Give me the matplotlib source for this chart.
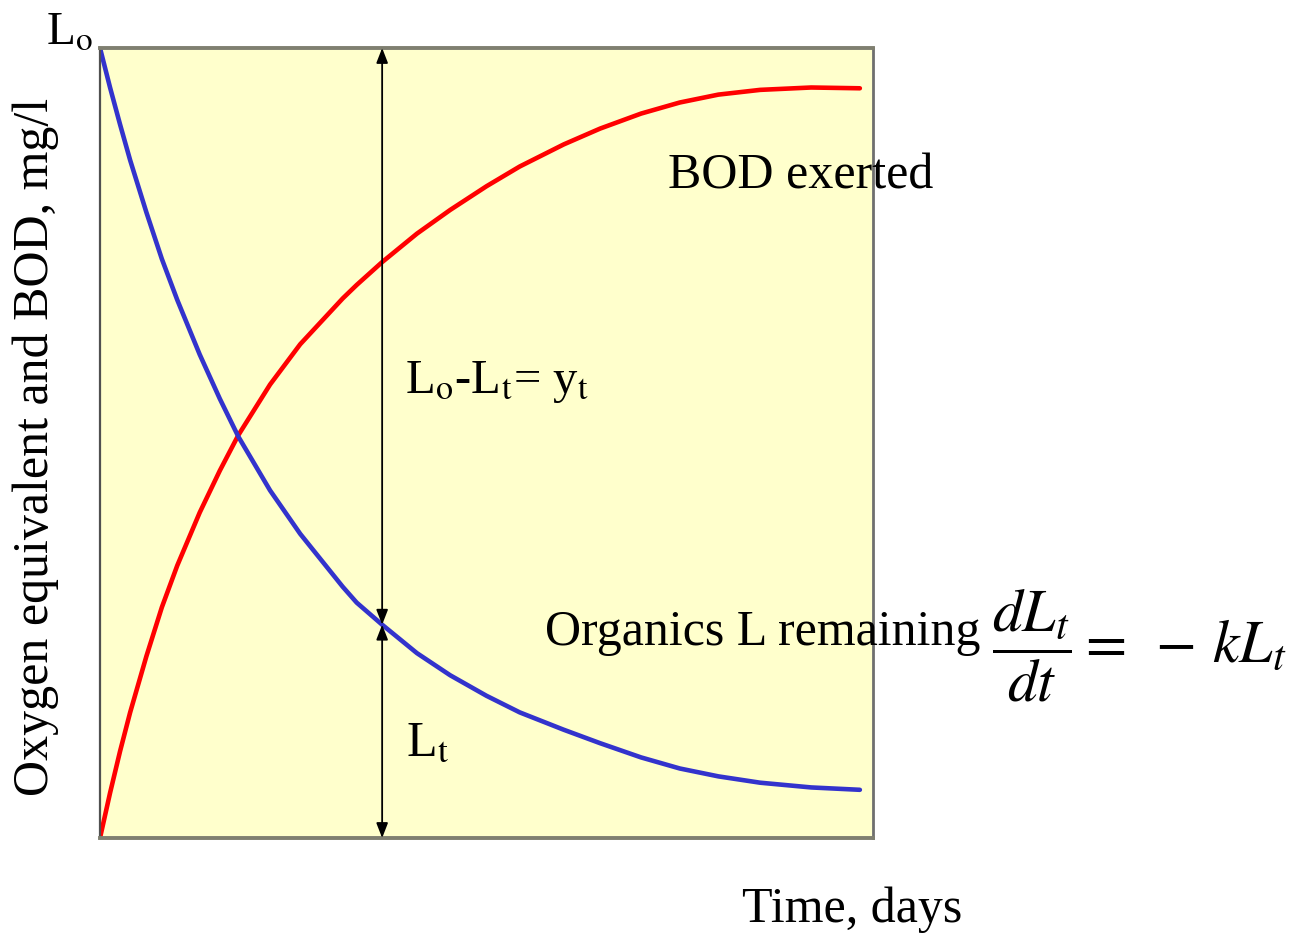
import numpy as np
import matplotlib
matplotlib.use('Agg')
from matplotlib import pyplot as plt

plt.rcParams['font.family'] = ['Liberation Serif', 'DejaVu Serif']
plt.rcParams['mathtext.fontset'] = 'stix'

# time axis (arbitrary units, 0..10)
t = [0, 0.13, 0.26, 0.39, 0.6, 0.8, 1.0, 1.29, 1.55, 1.79, 2.2, 2.59, 3.14, 3.32, 3.65,
     4.1, 4.53, 5.0, 5.43, 6.0, 6.47, 7.0, 7.5, 8.0, 8.54, 9.2, 9.83]
# BOD exerted (red)
bod = [0, 0.57, 1.10, 1.59, 2.30, 2.92, 3.45, 4.12, 4.65, 5.10, 5.74, 6.25, 6.83, 7.00, 7.29,
       7.65, 7.95, 8.25, 8.50, 8.78, 8.98, 9.17, 9.31, 9.41, 9.47, 9.50, 9.49]
# organics remaining (blue)
remaining = [10, 9.50, 9.03, 8.58, 7.92, 7.33, 6.81, 6.12, 5.56, 5.08, 4.40, 3.85, 3.18, 2.98, 2.70,
             2.34, 2.06, 1.80, 1.59, 1.37, 1.20, 1.02, 0.88, 0.78, 0.70, 0.64, 0.61]

t_mark = 3.65
L_mark = 2.70
L0 = 10

fig = plt.figure(figsize=(13.06, 9.38), dpi=100)
ax = fig.add_axes([100/1306, 100/938, 773/1306, 790/938])
ax.set_facecolor('#FFFFCC')

ax.plot(t, bod, color='#FF0000', lw=3.3, solid_capstyle='round', solid_joinstyle='round')
ax.plot(t, remaining, color='#3333CC', lw=3.3, solid_capstyle='round', solid_joinstyle='round')

# arrows at t_mark
arrow = dict(arrowstyle='<|-|>,head_length=0.9,head_width=0.35', color='black', lw=1.3,
             shrinkA=0, shrinkB=0)
ax.annotate('', xy=(t_mark, L0), xytext=(t_mark, L_mark), arrowprops=arrow)
ax.annotate('', xy=(t_mark, 0), xytext=(t_mark, L_mark), arrowprops=arrow)

ax.set_xlim(0, 10)
ax.set_ylim(0, L0)
ax.set_xticks([])
ax.set_yticks([])
for s in ['top', 'bottom']:
    ax.spines[s].set_color('#7F7F70')
    ax.spines[s].set_linewidth(2.8)
ax.spines['left'].set_color('#505050')
ax.spines['left'].set_linewidth(1.6)
ax.spines['right'].set_color('#6F6F6F')
ax.spines['right'].set_linewidth(2.0)


def px(x, y):
    return x / 1306, (938 - y) / 938


fs = 36
fig.text(*px(668, 188), 'BOD exerted', fontsize=fs, va='baseline', ha='left')
fig.text(*px(405, 393), r'L$_\mathrm{o}$-L$_\mathrm{t}$= y$_\mathrm{t}$', fontsize=35,
         va='baseline', ha='left')
fig.text(*px(406, 755), r'L$_\mathrm{t}$', fontsize=fs, va='baseline', ha='left')
fig.text(*px(545, 645), 'Organics L remaining', fontsize=fs, va='baseline', ha='left')
fig.text(*px(992, 645), r'$\dfrac{dL_t}{dt}=\;-\,kL_t$', fontsize=43, va='center', ha='left')
fig.text(*px(742, 922), 'Time, days', fontsize=fs, va='baseline', ha='left')
fig.text(*px(93, 45), r'L$_\mathrm{o}$', fontsize=34, va='baseline', ha='right')
fig.text(*px(36, 447), 'Oxygen equivalent and BOD, mg/l', fontsize=36, rotation=90,
         va='center', ha='center')

fig.savefig('out.png', dpi=100, facecolor='white')
